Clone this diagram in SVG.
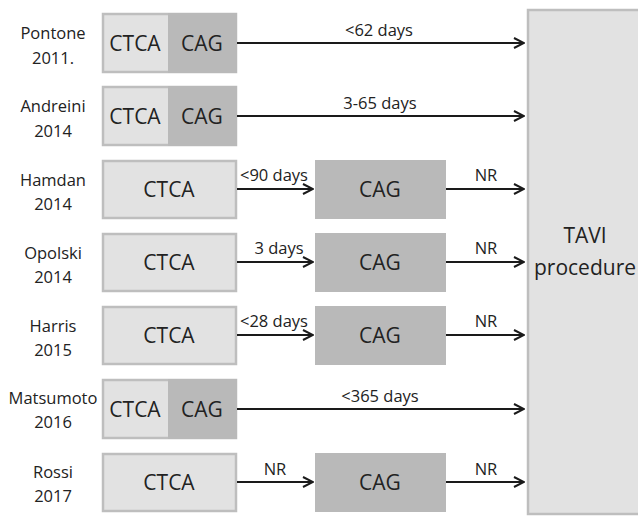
<svg xmlns="http://www.w3.org/2000/svg" width="638" height="516" viewBox="0 0 638 516">
<defs>
<style>
.lbl{font-family:"Open Sans","Noto Sans",sans-serif;font-size:16.5px;fill:#222;text-anchor:middle}
.box{font-family:"Open Sans","Noto Sans",sans-serif;font-size:21px;fill:#222;text-anchor:middle}
.alb{font-family:"Open Sans","Noto Sans",sans-serif;font-size:16.5px;fill:#222;text-anchor:middle}
.ctca{fill:#e2e2e2;stroke:#bebebe;stroke-width:2.5}
.cag{fill:#b9b9b9}
.ln{stroke:#1a1a1a;stroke-width:2;fill:none;marker-end:url(#ah)}
</style>
<marker id="ah" viewBox="0 0 12 12" refX="11" refY="6" markerWidth="12" markerHeight="12" markerUnits="userSpaceOnUse" orient="auto">
<path d="M1,1 L11,6 L1,11" fill="none" stroke="#1a1a1a" stroke-width="2"/>
</marker>
</defs>
<rect width="638" height="516" fill="#fff"/>

<g id="tavi">
<rect x="528" y="10" width="112" height="504" fill="#e2e2e2" stroke="#bebebe" stroke-width="2.5"/>
<text class="box" x="585" y="243">TAVI</text>
<text class="box" x="585" y="275">procedure</text>
</g>

<g id="row-pontone">
<text class="lbl" x="53" y="39">Pontone</text>
<text class="lbl" x="53" y="64">2011.</text>
<rect class="ctca" x="103" y="14" width="133" height="58"/>
<rect class="cag" x="168" y="13" width="69" height="60"/>
<text class="box" x="135" y="51">CTCA</text>
<text class="box" x="202" y="51">CAG</text>
</g>
<g id="row-andreini">
<text class="lbl" x="53" y="112">Andreini</text>
<text class="lbl" x="53" y="137">2014</text>
<rect class="ctca" x="103" y="87" width="133" height="58"/>
<rect class="cag" x="168" y="86" width="69" height="60"/>
<text class="box" x="135" y="124">CTCA</text>
<text class="box" x="202" y="124">CAG</text>
</g>
<g id="row-hamdan">
<text class="lbl" x="53" y="186">Hamdan</text>
<text class="lbl" x="53" y="210">2014</text>
<rect class="ctca" x="103" y="161" width="133" height="57"/>
<text class="box" x="169" y="197">CTCA</text>
<rect class="cag" x="315" y="160" width="131" height="59"/>
<text class="box" x="380" y="197">CAG</text>
</g>
<g id="row-opolski">
<text class="lbl" x="53" y="259">Opolski</text>
<text class="lbl" x="53" y="283">2014</text>
<rect class="ctca" x="103" y="234" width="133" height="57"/>
<text class="box" x="169" y="270">CTCA</text>
<rect class="cag" x="315" y="233" width="131" height="59"/>
<text class="box" x="380" y="270">CAG</text>
</g>
<g id="row-harris">
<text class="lbl" x="53" y="332">Harris</text>
<text class="lbl" x="53" y="356">2015</text>
<rect class="ctca" x="103" y="307" width="133" height="57"/>
<text class="box" x="169" y="343">CTCA</text>
<rect class="cag" x="315" y="306" width="131" height="59"/>
<text class="box" x="380" y="343">CAG</text>
</g>
<g id="row-matsumoto">
<text class="lbl" x="53" y="404">Matsumoto</text>
<text class="lbl" x="53" y="428">2016</text>
<rect class="ctca" x="103" y="380" width="133" height="58"/>
<rect class="cag" x="168" y="379" width="69" height="60"/>
<text class="box" x="135" y="417">CTCA</text>
<text class="box" x="202" y="417">CAG</text>
</g>
<g id="row-rossi">
<text class="lbl" x="53" y="478">Rossi</text>
<text class="lbl" x="53" y="502">2017</text>
<rect class="ctca" x="103" y="454" width="133" height="57"/>
<text class="box" x="169" y="490">CTCA</text>
<rect class="cag" x="315" y="453" width="131" height="59"/>
<text class="box" x="380" y="490">CAG</text>
</g>

<g id="connectors">
<line class="ln" x1="237" y1="43" x2="524" y2="43"/>
<text class="alb" x="379" y="36">&lt;62 days</text>
<line class="ln" x1="237" y1="116" x2="524" y2="116"/>
<text class="alb" x="380" y="109">3-65 days</text>

<line class="ln" x1="237" y1="189" x2="313" y2="189"/>
<text class="alb" x="274" y="181">&lt;90 days</text>
<line class="ln" x1="446" y1="189" x2="524" y2="189"/>
<text class="alb" x="486" y="181">NR</text>

<line class="ln" x1="237" y1="262" x2="313" y2="262"/>
<text class="alb" x="279" y="254">3 days</text>
<line class="ln" x1="446" y1="262" x2="524" y2="262"/>
<text class="alb" x="486" y="254">NR</text>

<line class="ln" x1="237" y1="335" x2="313" y2="335"/>
<text class="alb" x="274" y="327">&lt;28 days</text>
<line class="ln" x1="446" y1="335" x2="524" y2="335"/>
<text class="alb" x="486" y="327">NR</text>

<line class="ln" x1="237" y1="409" x2="524" y2="409"/>
<text class="alb" x="380" y="402">&lt;365 days</text>

<line class="ln" x1="237" y1="482" x2="313" y2="482"/>
<text class="alb" x="275" y="475">NR</text>
<line class="ln" x1="446" y1="482" x2="524" y2="482"/>
<text class="alb" x="486" y="475">NR</text>
</g>
</svg>
